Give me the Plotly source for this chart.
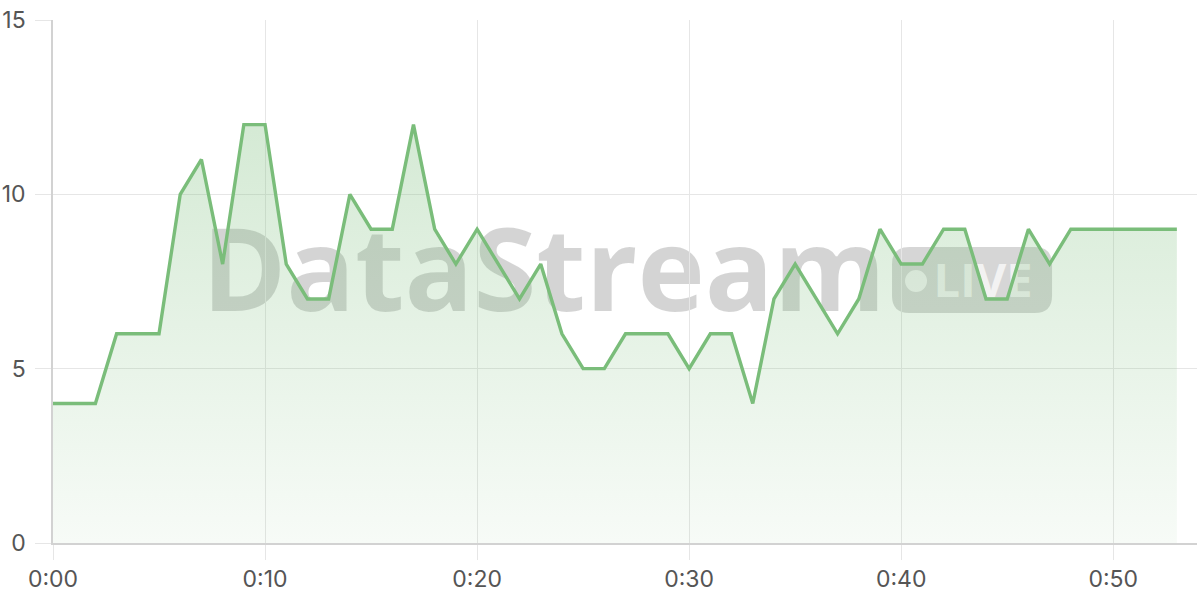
import plotly.graph_objects as go

seconds = list(range(54))
values = [4, 4, 4, 6, 6, 6, 10, 11, 8, 12,
          12, 8, 7, 7, 10, 9, 9, 12, 9, 8,
          9, 8, 7, 8, 6, 5, 5, 6, 6, 6,
          5, 6, 6, 4, 7, 8, 7, 6, 7, 9,
          8, 8, 9, 9, 7, 7, 9, 8, 9, 9,
          9, 9, 9, 9]
x_tickvals = [0, 10, 20, 30, 40, 50]
x_ticktext = ["0:00", "0:10", "0:20", "0:30", "0:40", "0:50"]
y_tickvals = [0, 5, 10, 15]

LINE = "rgb(122,189,122)"
GRID = "#e6e6e6"
AXIS = "#d2d2d2"
TXT = "#555555"
FONT = "Inter, Roboto, sans-serif"

fig = go.Figure()
fig.add_trace(go.Scatter(
    x=seconds, y=values, mode="lines",
    line=dict(color=LINE, width=3.4),
    fill="tozeroy",
    fillgradient=dict(type="vertical",
                      colorscale=[[0, "rgba(122,189,122,0.06)"], [1, "rgba(122,189,122,0.32)"]]),
    hoverinfo="skip",
))


def rounded_rect(x0, x1, y0, y1, rx, ry):
    return (f"M {x0+rx},{y0} L {x1-rx},{y0} Q {x1},{y0} {x1},{y0+ry} "
            f"L {x1},{y1-ry} Q {x1},{y1} {x1-rx},{y1} L {x0+rx},{y1} "
            f"Q {x0},{y1} {x0},{y1-ry} L {x0},{y0+ry} Q {x0},{y0} {x0+rx},{y0} Z")


# watermark (paper coordinates)
fig.add_shape(type="path", xref="paper", yref="paper",
              path=rounded_rect(0.7334, 0.8733, 0.4398, 0.566, 0.015, 0.033),
              layer="below", fillcolor="rgba(0,0,0,0.16)", line=dict(width=0))
fig.add_shape(type="circle", xref="paper", yref="paper",
              x0=0.7448, x1=0.7640, y0=0.480, y1=0.522, layer="below",
              fillcolor="rgba(255,255,255,0.7)", line=dict(width=0))
fig.add_shape(type="rect", xref="paper", yref="paper",
              x0=0.129, x1=0.729, y0=0.414, y1=0.614, layer="below",
              fillcolor="rgba(0,0,0,0)", line=dict(width=0),
              label=dict(text="<b>DataStream</b>",
                         font=dict(size=114, color="rgba(0,0,0,0.17)", family="Open Sans"),
                         textposition="middle center", padding=0))
fig.add_shape(type="rect", xref="paper", yref="paper",
              x0=0.763, x1=0.863, y0=0.449, y1=0.549, layer="below",
              fillcolor="rgba(0,0,0,0)", line=dict(width=0),
              label=dict(text="<b>LIVE</b>",
                         font=dict(size=47, color="rgba(255,255,255,0.7)", family="Open Sans"),
                         textposition="middle center", padding=0))

fig.update_layout(
    width=1200, height=600,
    margin=dict(l=53, r=3, t=20, b=57, autoexpand=False),
    paper_bgcolor="white", plot_bgcolor="white",
    showlegend=False,
    font=dict(family=FONT, color=TXT, size=23),
    xaxis=dict(range=[0, 53.95], tickvals=x_tickvals, ticktext=x_ticktext,
               showgrid=True, gridcolor=GRID, gridwidth=1.2,
               showline=True, linecolor=AXIS, linewidth=1.5,
               ticks="outside", ticklen=15, tickcolor=GRID, tickwidth=1.2,
               zeroline=False, automargin=False, tickfont=dict(size=23, color=TXT)),
    yaxis=dict(range=[0, 15], tickvals=y_tickvals,
               showgrid=True, gridcolor=GRID, gridwidth=1.2,
               showline=True, linecolor=AXIS, linewidth=1.5,
               ticks="outside", ticklen=16, tickcolor=GRID, tickwidth=1.2,
               ticklabelstandoff=5,
               zeroline=False, automargin=False, tickfont=dict(size=23, color=TXT)),
)

fig.write_html("out.html", config={"displayModeBar": False},
               post_script="document.body.style.margin='0';document.body.style.overflow='hidden';")
